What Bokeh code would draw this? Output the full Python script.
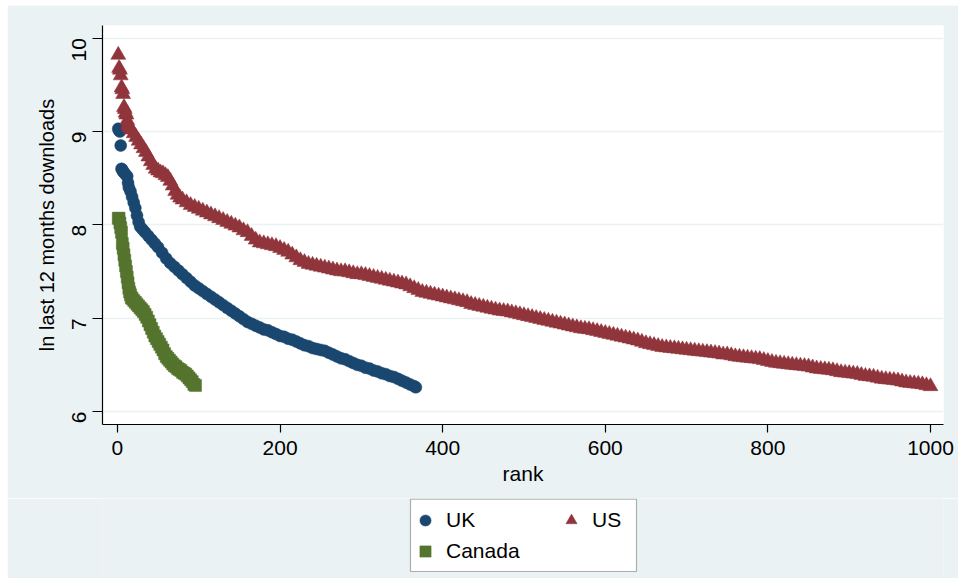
import math
from bokeh.plotting import figure
from bokeh.layouts import column, row
from bokeh.models import Range1d, FixedTicker, Legend, LegendItem, BoxAnnotation, Spacer
from bokeh.embed import file_html
from bokeh.resources import INLINE

# ---- data ----
uk_rank = [1, 2, 3, 4, 5, 6, 7, 8, 10, 12, 13, 14, 16, 18, 20, 22, 24, 26, 28, 31, 34, 38, 42, 46,
           50, 55, 60, 65, 70, 75, 80, 85, 90, 95, 100, 105, 110, 115, 120, 125, 130, 135, 140,
           145, 150, 155, 160, 165, 170, 175, 180, 185, 190, 195, 200, 205, 210, 215, 220, 225,
           230, 235, 240, 245, 250, 255, 260, 265, 270, 275, 280, 285, 290, 295, 300, 305, 310,
           315, 320, 325, 330, 335, 340, 345, 350, 355, 360, 365, 367]
uk_val = [9.03, 9.01, 9.00, 8.85, 8.60, 8.59, 8.57, 8.56, 8.54, 8.52, 8.45, 8.40, 8.36, 8.30, 8.24,
          8.18, 8.10, 8.03, 7.98, 7.95, 7.92, 7.88, 7.84, 7.80,
          7.76, 7.70, 7.64, 7.59, 7.55, 7.51, 7.47, 7.43, 7.39, 7.35, 7.32, 7.29, 7.26, 7.23, 7.20,
          7.17, 7.14, 7.11, 7.08, 7.05, 7.02, 6.99, 6.96, 6.94, 6.92, 6.90, 6.88, 6.87, 6.85, 6.83,
          6.81, 6.80, 6.78, 6.77, 6.75, 6.73, 6.71, 6.70, 6.68, 6.67, 6.66, 6.65, 6.63, 6.61, 6.59,
          6.57, 6.56, 6.54, 6.52, 6.50, 6.49, 6.47, 6.46, 6.44, 6.43, 6.41, 6.40, 6.38, 6.37, 6.35,
          6.33, 6.31, 6.29, 6.27, 6.26]

us_rank = [1, 2, 3, 4, 5, 6, 7, 8, 9, 10, 11, 12, 13, 14, 15, 17, 20, 23, 26, 29, 32, 35, 38, 41,
           44, 47, 50, 53, 56, 59, 62, 65, 68, 71, 74, 77, 80, 85, 90, 95, 100, 105, 110, 115, 120,
           125, 130, 135, 140, 145, 150, 155, 160, 165, 170, 175,
           180, 185, 190, 195, 200, 205, 210, 215, 220, 225, 230, 235, 240, 245, 250, 255, 260, 265,
           270, 275, 280, 285, 290, 295, 300, 305, 310, 315, 320, 325, 330, 335, 340, 345, 350, 355,
           360, 365, 370, 375, 380, 385, 390, 395, 400, 405, 410, 415, 420, 425, 430, 435, 440, 445,
           450, 455, 460, 465, 470, 475, 480, 485, 490, 495, 500, 505, 510, 515, 520, 525, 530, 535,
           540, 545, 550, 555, 560, 565, 570, 575, 580, 585, 590, 595, 600, 605, 610, 615, 620, 625,
           630, 635, 640, 645, 650, 655, 660, 665, 670, 675, 680, 685, 690, 695, 700, 705, 710, 715,
           720, 725, 730, 735, 740, 745, 750, 755, 760, 765, 770, 775, 780, 785, 790, 795, 800, 805,
           810, 815, 820, 825, 830, 835, 840, 845, 850, 855, 860, 865, 870, 875, 880, 885, 890, 895,
           900, 905, 910, 915, 920, 925, 930, 935, 940, 945, 950, 955, 960, 965, 970, 975, 980, 985,
           990, 995, 1000]
us_val = [9.82, 9.68, 9.66, 9.60, 9.47, 9.45, 9.40, 9.26, 9.24, 9.20, 9.18, 9.12, 9.08, 9.06, 9.04,
          9.02, 8.98, 8.94, 8.90, 8.86, 8.82, 8.78, 8.73, 8.68, 8.64, 8.60, 8.58, 8.56, 8.55, 8.53,
          8.51, 8.47, 8.42, 8.36, 8.32, 8.29, 8.27, 8.24, 8.21, 8.19, 8.17, 8.15, 8.13, 8.11, 8.09,
          8.07, 8.05, 8.03, 8.01, 7.99, 7.97, 7.94, 7.92, 7.88, 7.84, 7.81,
          7.80, 7.79, 7.78, 7.77, 7.75, 7.73, 7.71, 7.68, 7.65, 7.62, 7.60, 7.58, 7.57, 7.56,
          7.55, 7.54, 7.53, 7.52, 7.51, 7.50, 7.50, 7.49, 7.48, 7.47, 7.47, 7.46, 7.45, 7.44,
          7.43, 7.42, 7.41, 7.40, 7.39, 7.38, 7.37, 7.36, 7.34, 7.32, 7.30, 7.28, 7.27, 7.26,
          7.25, 7.24, 7.23, 7.22, 7.21, 7.20, 7.19, 7.18, 7.17, 7.15, 7.14, 7.13, 7.12, 7.11,
          7.10, 7.09, 7.08, 7.075, 7.07, 7.06, 7.05, 7.04, 7.03, 7.02, 7.01, 7.00, 6.99, 6.98,
          6.97, 6.96, 6.95, 6.94, 6.93, 6.92, 6.91, 6.90, 6.89, 6.885, 6.88, 6.87, 6.86, 6.85,
          6.84, 6.83, 6.82, 6.81, 6.80, 6.79, 6.78, 6.77, 6.76, 6.745, 6.73, 6.72, 6.71, 6.70,
          6.69, 6.685, 6.68, 6.675, 6.67, 6.665, 6.66, 6.655, 6.65, 6.645, 6.64, 6.635, 6.63, 6.625,
          6.62, 6.61, 6.61, 6.60, 6.59, 6.585, 6.58, 6.575, 6.57, 6.565, 6.56, 6.55, 6.54, 6.53,
          6.52, 6.515, 6.51, 6.505, 6.50, 6.495, 6.49, 6.485, 6.48, 6.47, 6.46, 6.455, 6.45, 6.445,
          6.44, 6.43, 6.42, 6.415, 6.41, 6.405, 6.40, 6.39, 6.38, 6.375, 6.37, 6.36, 6.35, 6.345,
          6.34, 6.335, 6.33, 6.32, 6.31, 6.305, 6.30, 6.295, 6.29, 6.28, 6.27]

ca_rank = [1, 2, 3, 4, 5, 6, 7, 8, 9, 10, 11, 12, 13, 14, 15, 16, 17, 18, 20, 22, 24, 26, 28, 30,
           32, 34, 36, 38, 40, 42, 44, 46, 48, 50, 52, 54, 56, 58, 60, 62, 64, 66, 68, 70, 72, 74,
           76, 78, 80, 82, 84, 86, 88, 90, 92, 94, 96]
ca_val = [8.07, 8.07, 8.02, 7.97, 7.92, 7.80, 7.75, 7.68, 7.62, 7.56, 7.50, 7.44, 7.38, 7.32, 7.28,
          7.25, 7.22, 7.21, 7.19, 7.17, 7.15, 7.13, 7.11, 7.09, 7.07, 7.04, 7.01, 6.97, 6.93, 6.89,
          6.85, 6.81, 6.78, 6.75, 6.72, 6.69, 6.66, 6.62, 6.59, 6.57, 6.55, 6.53, 6.51, 6.49, 6.48,
          6.46, 6.45, 6.44, 6.42, 6.41, 6.40, 6.38, 6.36, 6.34, 6.32, 6.29, 6.28]

series_names = ["UK", "US", "Canada"]
x_ticks = [0, 200, 400, 600, 800, 1000]
y_ticks = [6, 7, 8, 9, 10]

NAVY = "#1A476F"
MAROON = "#90353B"
GREEN = "#55752F"
BG = "#EAF2F3"
FONT = "Liberation Sans"
styles = [("circle", 12, NAVY), ("triangle", 15, MAROON), ("square", 12, GREEN)]
all_x = [uk_rank, us_rank, ca_rank]
all_y = [uk_val, us_val, ca_val]

# ---- main plot ----
p = figure(width=951, height=493, output_backend="svg", toolbar_location=None,
           x_range=Range1d(-18.4, 1016), y_range=Range1d(5.861, 10.136),
           min_border_left=95, min_border_top=20, min_border_right=15, min_border_bottom=74)
p.background_fill_color = "white"
p.border_fill_color = BG
p.outline_line_color = None

for (mk, sz, col), xs, ys in zip(styles, all_x, all_y):
    p.scatter(xs, ys, marker=mk, size=sz, fill_color=col, line_color=col, line_width=0.5)

p.xaxis.ticker = FixedTicker(ticks=x_ticks)
p.yaxis.ticker = FixedTicker(ticks=y_ticks)
p.xgrid.grid_line_color = None
p.ygrid.grid_line_color = BG
p.ygrid.grid_line_width = 1.5

for ax in (p.xaxis[0], p.yaxis[0]):
    ax.axis_line_color = "black"
    ax.axis_line_width = 1.2
    ax.major_tick_line_color = "black"
    ax.major_tick_line_width = 1.2
    ax.major_tick_in = 0
    ax.minor_tick_line_color = None
    ax.major_label_text_font = FONT
    ax.major_label_text_font_size = "21px"
    ax.major_label_text_color = "black"
    ax.axis_label_text_font = FONT
    ax.axis_label_text_font_style = "normal"
    ax.axis_label_text_color = "black"

p.xaxis.major_tick_out = 8
p.xaxis.major_label_standoff = 8
p.xaxis.axis_label = "rank"
p.xaxis.axis_label_text_font_size = "21px"
p.xaxis.axis_label_standoff = 4

p.yaxis.major_tick_out = 10
p.yaxis.major_label_standoff = 13
p.yaxis.major_label_orientation = math.pi / 2
p.yaxis.axis_label = "ln last 12 months downloads"
p.yaxis.axis_label_text_font_size = "20px"
p.yaxis.axis_label_standoff = 5

# ---- legend strip below the plot (frame: 841 x 80 px, y range offset so data stays hidden) ----
lf = figure(width=951, height=80, output_backend="svg", toolbar_location=None,
            x_range=Range1d(0, 841), y_range=Range1d(20, 100), x_axis_type=None, y_axis_type=None,
            min_border_left=95, min_border_right=15, min_border_top=0, min_border_bottom=0)
lf.background_fill_color = BG
lf.border_fill_color = BG
lf.outline_line_color = None
lf.grid.visible = False

lf.add_layout(BoxAnnotation(left=308, right=534, bottom=27, top=99.4,
                            fill_color="white", fill_alpha=1.0,
                            line_color="black", line_width=1.2))

rend = []
for (mk, sz, col), xs, ys in zip(styles, all_x, all_y):
    rend.append(lf.scatter(xs[:1], ys[:1], marker=mk, size=sz, fill_color=col,
                           line_color=col, line_width=0.5))

common = dict(label_text_font=FONT, label_text_font_size="21px", label_text_color="black",
              glyph_width=28, glyph_height=28, label_height=31, label_standoff=7,
              padding=0, spacing=0, margin=0, border_line_color=None,
              background_fill_alpha=0.0)
leg_a = Legend(items=[LegendItem(label=series_names[0], renderers=[rend[0]]),
                      LegendItem(label=series_names[2], renderers=[rend[2]])],
               orientation="vertical", location=(309, 12), **common)
leg_b = Legend(items=[LegendItem(label=series_names[1], renderers=[rend[1]])],
               orientation="vertical", location=(455, 43), **common)
lf.add_layout(leg_a, "center")
lf.add_layout(leg_b, "center")

layout = row(Spacer(width=7, height=578), column(Spacer(width=951, height=5), p, lf, spacing=0), spacing=0)
open("out.html", "w").write(file_html(layout, INLINE))
